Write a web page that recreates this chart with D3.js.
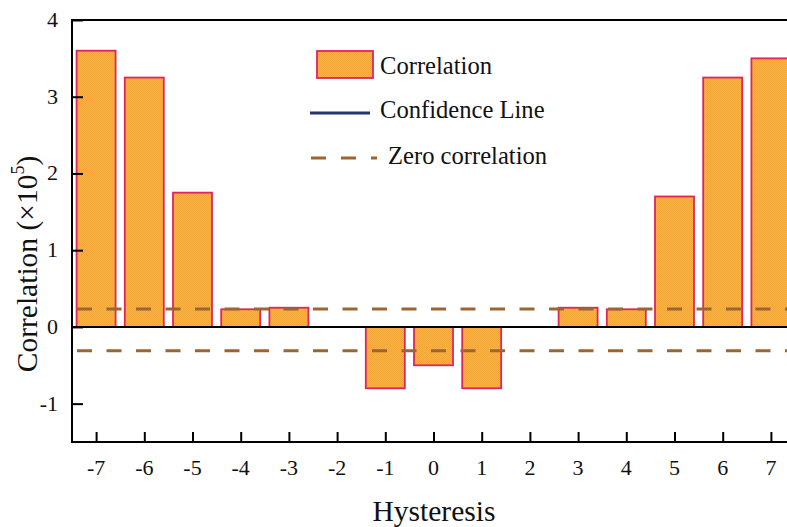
<!DOCTYPE html>
<html>
<head>
<meta charset="utf-8">
<script src="https://cdn.jsdelivr.net/npm/d3@7"></script>
<style>
  body { margin: 0; background: #fff; }
  svg { display: block; font-family: "Liberation Serif", "Times New Roman", serif; }
</style>
</head>
<body>
<svg id="chart" width="787" height="527"></svg>
<script>
// lags along the x axis
const lags = [-7, -6, -5, -4, -3, -2, -1, 0, 1, 2, 3, 4, 5, 6, 7];
// correlation in units of 10^5 (null = no bar)
const correlation = [3.6, 3.25, 1.75, 0.23, 0.25, null, -0.8, -0.5, -0.8, null, 0.25, 0.23, 1.7, 3.25, 3.5];
// dashed reference levels
const refLevels = [0.235, -0.31];
const yTicks = [-1, 0, 1, 2, 3, 4];

const svg = d3.select("#chart");
const plotLeft = 72, plotTop = 20, plotBottom = 442;
const step = 48.2;

const x = d3.scaleLinear().domain([-7.5, 7.5]).range([plotLeft, plotLeft + 15 * step]);
const y = d3.scaleLinear().domain([-1.5, 4]).range([plotBottom, plotTop]);

const defs = svg.append("defs");
const pat = defs.append("pattern")
    .attr("id", "dots")
    .attr("width", 2).attr("height", 2)
    .attr("patternUnits", "userSpaceOnUse");
pat.append("rect").attr("width", 2).attr("height", 2).attr("fill", "#f9b345");
pat.append("rect").attr("width", 1).attr("height", 1).attr("fill", "#f3a536");
pat.append("rect").attr("x", 1).attr("y", 1).attr("width", 1).attr("height", 1).attr("fill", "#f3a536");

const barW = 39;
const bars = lags.map((k, i) => ({ k, v: correlation[i] })).filter(d => d.v !== null);

svg.append("g").selectAll("rect")
    .data(bars)
    .enter().append("rect")
    .attr("x", d => x(d.k) - barW / 2)
    .attr("width", barW)
    .attr("y", d => y(Math.max(0, d.v)))
    .attr("height", d => Math.abs(y(d.v) - y(0)))
    .attr("fill", "url(#dots)")
    .attr("stroke", "#e0245c")
    .attr("stroke-width", 1.8);

// zero line
svg.append("line")
    .attr("x1", plotLeft).attr("x2", 787)
    .attr("y1", y(0)).attr("y2", y(0))
    .attr("stroke", "#000").attr("stroke-width", 2);

// dashed reference lines
svg.append("g").selectAll("line")
    .data(refLevels)
    .enter().append("line")
    .attr("x1", plotLeft + 5).attr("x2", 787)
    .attr("y1", d => y(d)).attr("y2", d => y(d))
    .attr("stroke", "#9c6532")
    .attr("stroke-width", 3)
    .attr("stroke-dasharray", "15,14.5");

// frame: left, top and bottom
const frame = svg.append("g").attr("stroke", "#000").attr("stroke-width", 2);
frame.append("line").attr("x1", plotLeft).attr("x2", plotLeft).attr("y1", plotTop - 1).attr("y2", plotBottom + 1);
frame.append("line").attr("x1", plotLeft - 1).attr("x2", 787).attr("y1", plotTop).attr("y2", plotTop);
frame.append("line").attr("x1", plotLeft - 1).attr("x2", 787).attr("y1", plotBottom).attr("y2", plotBottom);

// y axis
const yAxis = svg.append("g")
    .attr("transform", `translate(${plotLeft},0)`)
    .call(d3.axisRight(y).tickValues(yTicks).tickSize(11).tickFormat(d => ""));
yAxis.select(".domain").remove();
yAxis.selectAll(".tick line").attr("stroke", "#000").attr("stroke-width", 2);

svg.append("g").selectAll("text")
    .data(yTicks)
    .enter().append("text")
    .attr("x", 58)
    .attr("y", d => y(d) + 7)
    .attr("text-anchor", "end")
    .attr("font-size", 22)
    .attr("fill", "#111")
    .text(d => d);

// x axis
const xAxis = svg.append("g")
    .attr("transform", `translate(0,${plotBottom})`)
    .call(d3.axisTop(x).tickValues(lags).tickSize(10).tickFormat(d => ""));
xAxis.select(".domain").remove();
xAxis.selectAll(".tick line").attr("stroke", "#000").attr("stroke-width", 2);

svg.append("g").selectAll("text")
    .data(lags)
    .enter().append("text")
    .attr("x", d => x(d))
    .attr("y", 475)
    .attr("text-anchor", "middle")
    .attr("font-size", 22)
    .attr("fill", "#111")
    .text(d => d);

// axis titles
svg.append("text")
    .attr("x", 434).attr("y", 521)
    .attr("text-anchor", "middle")
    .attr("font-size", 29.5)
    .attr("fill", "#111")
    .text("Hysteresis");

const yt = svg.append("text")
    .attr("transform", "translate(37,264) rotate(-90)")
    .attr("text-anchor", "middle")
    .attr("font-size", 29.5)
    .attr("fill", "#111");
yt.append("tspan").text("Correlation (\u00d710");
yt.append("tspan").attr("font-size", 18).attr("dy", -13).text("5");
yt.append("tspan").attr("dy", 13).text(")");

// legend
const lg = svg.append("g");
lg.append("rect")
    .attr("x", 317).attr("y", 51).attr("width", 56).attr("height", 27)
    .attr("fill", "url(#dots)").attr("stroke", "#e0245c").attr("stroke-width", 1.8);
lg.append("line")
    .attr("x1", 310).attr("x2", 370).attr("y1", 113).attr("y2", 113)
    .attr("stroke", "#27336b").attr("stroke-width", 3);
lg.append("line")
    .attr("x1", 311).attr("x2", 377).attr("y1", 158).attr("y2", 158)
    .attr("stroke", "#9c6532").attr("stroke-width", 3)
    .attr("stroke-dasharray", "15,15");
const legendText = [
    { label: "Correlation", x: 380, y: 74 },
    { label: "Confidence Line", x: 380, y: 118 },
    { label: "Zero correlation", x: 388, y: 164 }
];
lg.selectAll("text")
    .data(legendText)
    .enter().append("text")
    .attr("x", d => d.x).attr("y", d => d.y)
    .attr("font-size", 24.6)
    .attr("fill", "#111")
    .text(d => d.label);
</script>
</body>
</html>
